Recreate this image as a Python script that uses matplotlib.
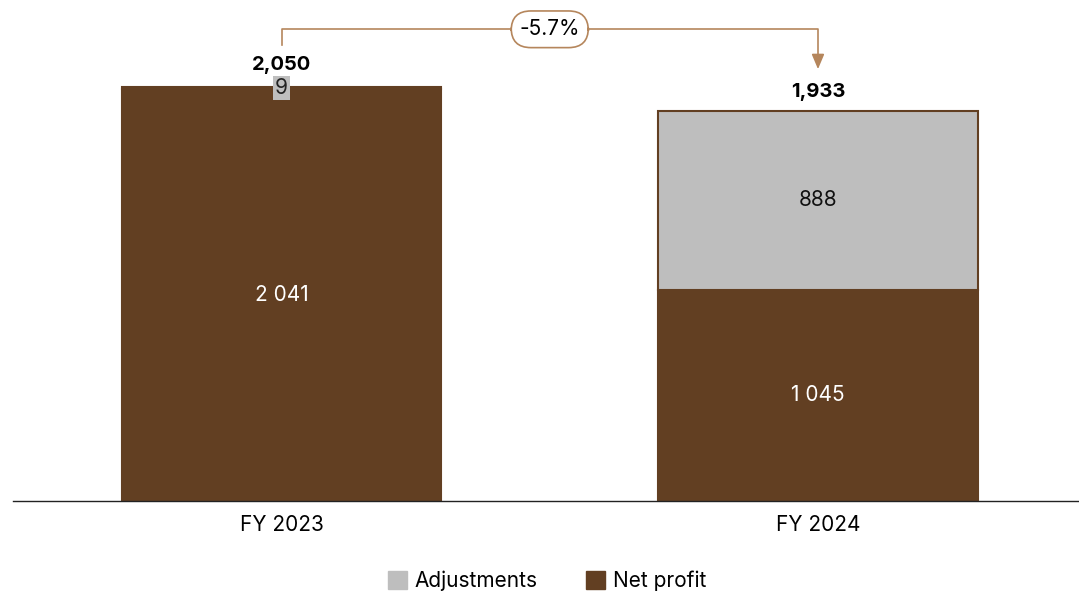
import matplotlib.pyplot as plt
from matplotlib.patches import Patch

plt.rcParams['font.family'] = ['Inter', 'DejaVu Sans']

years = ['FY 2023', 'FY 2024']
net_profit = [2041, 1045]
adjustments = [9, 888]
totals = [2050, 1933]
change_label = '-5.7%'

brown = '#623F22'
grey = '#BEBEBE'
accent = '#B5865C'
fs = 15

fig = plt.figure(figsize=(10.79, 5.93), dpi=100)
ax = fig.add_axes([13 / 1079, 92 / 593, 1 - 13 / 1079, 501 / 593])

x = [0, 1]
w = 0.595
ax.bar(x, net_profit, width=w, color=brown, edgecolor=brown, linewidth=1.5)
ax.bar(x, adjustments, width=w, bottom=net_profit, color=grey,
       edgecolor=brown, linewidth=1.5)

ax.set_xlim(-0.5005, 1.4865)
ax.set_ylim(0, 2480)

for xi, npv, adj, tot in zip(x, net_profit, adjustments, totals):
    ax.text(xi, npv / 2, '{:,}'.format(npv).replace(',', ' '), ha='center', va='center',
            color='white', fontsize=fs)
    if adj < 100:
        ax.text(xi, 2045, str(adj), ha='center', va='center', fontsize=fs,
                color='#222222',
                bbox=dict(boxstyle='square,pad=0.1', fc=grey, ec='none'))
        ax.text(xi, 2160, '{:,}'.format(tot), ha='center', va='center',
                fontsize=14.5, fontweight='bold')
    else:
        ax.text(xi, npv + adj / 2, str(adj), ha='center', va='center',
                fontsize=fs, color='#111111')
        ax.text(xi, 2027, '{:,}'.format(tot), ha='center', va='center',
                fontsize=14.5, fontweight='bold')

# bracket with change
y_top = 2335
ax.plot([0, 0, 1, 1], [2257, y_top, y_top, 2200], color=accent, lw=1.2,
        clip_on=False)
ax.annotate('', xy=(1, 2124), xytext=(1, 2210),
            arrowprops=dict(arrowstyle='-|>,head_width=0.38,head_length=0.9',
                            color=accent, lw=1.2))
ax.text(0.5, y_top, change_label, ha='center', va='center', fontsize=fs,
        bbox=dict(boxstyle='round,pad=0.4,rounding_size=0.95', fc='white',
                  ec=accent, lw=1.2))

ax.set_xticks(x)
ax.set_xticklabels(years, fontsize=fs)
ax.tick_params(axis='x', length=0, pad=10)
ax.set_yticks([])
for s in ['top', 'right', 'left']:
    ax.spines[s].set_visible(False)
ax.spines['bottom'].set_color('#222222')
ax.spines['bottom'].set_linewidth(1)

handles = [Patch(color=grey, label='Adjustments'), Patch(color=brown, label='Net profit')]
fig.legend(handles=handles, loc='center', bbox_to_anchor=(547 / 1079, 1 - 581 / 593),
           ncol=2, frameon=False, fontsize=fs, handlelength=0.9, handleheight=0.9,
           columnspacing=2.3, handletextpad=0.4)

fig.savefig('out.png', dpi=100)
